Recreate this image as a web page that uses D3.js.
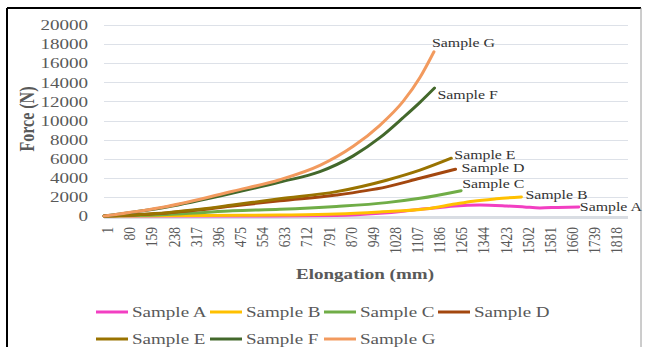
<!DOCTYPE html>
<html>
<head>
<meta charset="utf-8">
<script src="https://cdn.jsdelivr.net/npm/d3@7"></script>
<style>
  body { margin: 0; background: #fff; }
  svg { display: block; font-family: "Liberation Serif", "Times New Roman", serif; }
</style>
</head>
<body>
<svg id="chart" width="646" height="347"></svg>
<script>
// values: [elongation index, force N]
var sampleNames = ["Sample A", "Sample B", "Sample C", "Sample D", "Sample E", "Sample F", "Sample G"];

var sampleA = [[1, 0], [600, 0], [830, 50], [985, 280], [1068, 500], [1128, 700], [1199, 900], [1253, 1050],
               [1342, 1150], [1438, 1050], [1500, 950], [1556, 850], [1620, 900], [1695, 950]];
var sampleB = [[1, 0], [343, 50], [628, 100], [830, 200], [985, 420], [1152, 750], [1253, 1250], [1318, 1550],
               [1400, 1800], [1490, 2000]];
var sampleC = [[1, 0], [225, 150], [343, 350], [460, 550], [628, 700], [830, 1000], [1009, 1400], [1128, 1850],
               [1275, 2650]];
var sampleD = [[1, 0], [225, 320], [343, 650], [460, 1050], [628, 1600], [830, 2200], [1009, 3050], [1128, 3950],
               [1255, 4900]];
var sampleE = [[1, 0], [225, 350], [343, 700], [460, 1150], [628, 1800], [830, 2550], [1009, 3750], [1128, 4800],
               [1240, 6050]];
var sampleF = [[1, 0], [225, 950], [460, 2400], [628, 3550], [771, 4650], [890, 6300], [985, 8200],
               [1068, 10300], [1128, 11900], [1180, 13400]];
var sampleG = [[1, 0], [225, 1000], [460, 2600], [628, 3800], [771, 5300], [890, 7300], [985, 9500],
               [1068, 12000], [1128, 14500], [1178, 17200]];

var xTickLabels = [1, 80, 159, 238, 317, 396, 475, 554, 633, 712, 791, 870, 949, 1028, 1107, 1186, 1265, 1344,
                   1423, 1502, 1581, 1660, 1739, 1818];
var yTickLabels = [0, 2000, 4000, 6000, 8000, 10000, 12000, 14000, 16000, 18000, 20000];
var categoryCount = 1870;

var series = [sampleA, sampleB, sampleC, sampleD, sampleE, sampleF, sampleG];
var colors = ["#f23fc2", "#ffc000", "#70ad47", "#a3470f", "#997300", "#43682b", "#f29a5e"];
// label offset from each line's end point
var labelOffset = [[1, 0], [4, -2], [1, -7], [6, -2], [3, -4], [3, 7], [-2, -9]];

var stretch = 1.27; // the picture is stretched sideways, text too

var svg = d3.select("#chart");

var x = d3.scaleLinear().domain([0.5, categoryCount + 0.5]).range([104, 628]);
var y = d3.scaleLinear().domain([0, 20000]).range([216, 25]);

function stretchedText(px, py, str, size, anchor, opts) {
    opts = opts || {};
    var g = svg.append("g")
        .attr("transform", "translate(" + px + "," + py + ") scale(" + stretch + ",1)" + (opts.rotate ? " rotate(-90)" : ""));
    return g.append("text")
        .attr("text-anchor", anchor)
        .attr("dy", opts.dy || null)
        .attr("font-size", size)
        .attr("font-weight", opts.bold ? "bold" : "normal")
        .attr("fill", opts.fill || "#595959")
        .text(str);
}

// frame
svg.append("line").attr("x1", 7).attr("x2", 641).attr("y1", 8).attr("y2", 8)
    .attr("stroke", "#000").attr("stroke-width", 2);
svg.append("line").attr("x1", 7).attr("x2", 7).attr("y1", 8).attr("y2", 347)
    .attr("stroke", "#000").attr("stroke-width", 2);
svg.append("line").attr("x1", 641).attr("x2", 641).attr("y1", 8).attr("y2", 347)
    .attr("stroke", "#9a9a9a").attr("stroke-width", 1);

// gridlines
svg.append("g").selectAll("line")
    .data(yTickLabels.filter(d => d > 0))
    .enter().append("line")
    .attr("x1", x.range()[0]).attr("x2", x.range()[1])
    .attr("y1", d => Math.round(y(d)) + 0.5).attr("y2", d => Math.round(y(d)) + 0.5)
    .attr("stroke", "#dde1e8").attr("stroke-width", 1);

// axis band
svg.append("line")
    .attr("x1", x.range()[0]).attr("x2", x.range()[1])
    .attr("y1", y(0) + 1.5).attr("y2", y(0) + 1.5)
    .attr("stroke", "#d9dde3").attr("stroke-width", 3);

// y tick labels
yTickLabels.forEach(function (d) {
    stretchedText(88, y(d), d, 15, "end", { dy: "0.35em" });
});

// x tick labels, rotated
xTickLabels.forEach(function (d) {
    stretchedText(x(d) + 3, 227, d, 13.5, "end", { rotate: true, dy: "0.35em" });
});

// axis titles
stretchedText(27, 119, "Force (N)", 16, "middle", { rotate: true, bold: true, dy: "0.35em" });
stretchedText(365, 279, "Elongation (mm)", 15, "middle", { bold: true });

// lines
var line = d3.line()
    .x(d => x(d[0]))
    .y(d => y(d[1]))
    .curve(d3.curveMonotoneX);

svg.append("g").selectAll("path")
    .data(series)
    .enter().append("path")
    .attr("d", line)
    .attr("fill", "none")
    .attr("stroke", (d, i) => colors[i])
    .attr("stroke-width", 3)
    .attr("stroke-linecap", "round");

// end labels
series.forEach(function (s, i) {
    var last = s[s.length - 1];
    stretchedText(x(last[0]) + labelOffset[i][0], y(last[1]) + labelOffset[i][1], sampleNames[i], 12.5, "start",
        { dy: "0.35em", fill: "#333" });
});

// legend
var legendCols = 4;
sampleNames.forEach(function (name, i) {
    var lx = 96 + (i % legendCols) * 114;
    var ly = i < legendCols ? 312 : 339;
    svg.append("line")
        .attr("x1", lx).attr("x2", lx + 32)
        .attr("y1", ly).attr("y2", ly)
        .attr("stroke", colors[i]).attr("stroke-width", 3);
    stretchedText(lx + 36, ly, name, 15, "start", { dy: "0.33em" });
});
</script>
</body>
</html>
